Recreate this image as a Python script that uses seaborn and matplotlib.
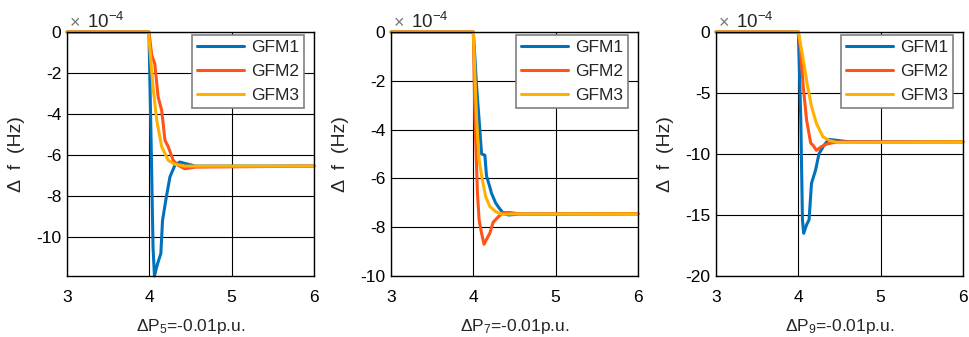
import numpy as np
import pandas as pd
import seaborn as sns
import matplotlib.pyplot as plt

# values in units of 1e-4 Hz
t5_g1 = [3.0, 3.995, 4.02, 4.045, 4.062, 4.08, 4.10, 4.14, 4.16, 4.20, 4.25, 4.31, 4.37, 4.45, 4.56, 6.0]
f5_g1 = [0, 0, -5.0, -10.5, -11.9, -11.6, -11.3, -10.8, -9.2, -8.2, -7.07, -6.5, -6.34, -6.43, -6.54, -6.54]
t5_g2 = [3.0, 3.995, 4.03, 4.066, 4.107, 4.15, 4.19, 4.23, 4.29, 4.35, 4.43, 4.56, 6.0]
f5_g2 = [0, 0, -1.14, -1.55, -3.17, -3.82, -5.28, -5.6, -6.26, -6.5, -6.67, -6.59, -6.54]
t5_g3 = [3.0, 3.99, 4.045, 4.09, 4.15, 4.23, 4.31, 4.43, 6.0]
f5_g3 = [0, 0, -2.7, -4.3, -5.6, -6.26, -6.45, -6.54, -6.54]

t7_g1 = [3.0, 4.0, 4.04, 4.07, 4.10, 4.14, 4.16, 4.20, 4.22, 4.27, 4.31, 4.37, 4.43, 4.57, 6.0]
f7_g1 = [0, 0, -2.25, -3.6, -5.0, -5.05, -5.9, -6.35, -6.6, -7.0, -7.2, -7.45, -7.5, -7.46, -7.45]
t7_g2 = [3.0, 4.0, 4.02, 4.05, 4.07, 4.10, 4.13, 4.16, 4.20, 4.24, 4.31, 4.37, 4.45, 4.57, 6.0]
f7_g2 = [0, 0, -3.6, -6.6, -7.7, -8.25, -8.7, -8.5, -8.25, -7.8, -7.55, -7.4, -7.4, -7.46, -7.45]
t7_g3 = [3.0, 4.0, 4.04, 4.07, 4.11, 4.15, 4.20, 4.27, 4.35, 4.45, 6.0]
f7_g3 = [0, 0, -3.6, -5.25, -6.07, -6.75, -7.15, -7.36, -7.47, -7.46, -7.45]

t9_g1 = [3.0, 4.0, 4.03, 4.05, 4.065, 4.10, 4.13, 4.16, 4.21, 4.25, 4.31, 4.37, 4.49, 4.61, 6.0]
f9_g1 = [0, 0, -7.2, -15.4, -16.5, -15.8, -15.4, -12.4, -11.3, -10.0, -9.3, -8.8, -8.9, -9.0, -9.0]
t9_g2 = [3.0, 4.0, 4.02, 4.06, 4.10, 4.15, 4.18, 4.22, 4.28, 4.34, 4.40, 4.50, 6.0]
f9_g2 = [0, 0, -1.0, -4.5, -7.2, -9.1, -9.3, -9.7, -9.4, -9.2, -9.1, -9.0, -9.0]
t9_g3 = [3.0, 4.0, 4.04, 4.08, 4.10, 4.16, 4.22, 4.30, 4.38, 4.48, 6.0]
f9_g3 = [0, 0, -1.5, -3.1, -4.0, -6.1, -7.5, -8.6, -8.9, -9.06, -9.0]

series = ["GFM1", "GFM2", "GFM3"]
colors = ["#0072BD", "#FF5317", "#FFB000"]
xlabels = ["ΔP$_5$=-0.01p.u.", "ΔP$_7$=-0.01p.u.", "ΔP$_9$=-0.01p.u."]
ylims = [(-11.9, 0), (-10, 0), (-20, 0)]
yticks = [[-10, -8, -6, -4, -2, 0], [-10, -8, -6, -4, -2, 0], [-20, -15, -10, -5, 0]]

cases = [
    [(t5_g1, f5_g1), (t5_g2, f5_g2), (t5_g3, f5_g3)],
    [(t7_g1, f7_g1), (t7_g2, f7_g2), (t7_g3, f7_g3)],
    [(t9_g1, f9_g1), (t9_g2, f9_g2), (t9_g3, f9_g3)],
]

sns.set_style("white")
plt.rcParams["font.family"] = ["Liberation Sans", "DejaVu Sans"]
plt.rcParams["axes.unicode_minus"] = False
plt.rcParams["mathtext.fontset"] = "custom"
plt.rcParams["mathtext.rm"] = "Liberation Sans"
plt.rcParams["mathtext.it"] = "Liberation Sans"

fig = plt.figure(figsize=(9.69, 3.37), dpi=100)
lefts = [67 / 969, 391 / 969, 716 / 969]
w = 247 / 969
b = (337 - 276) / 337
h = 244 / 337

for i, case in enumerate(cases):
    ax = fig.add_axes([lefts[i], b, w, h])
    rows = []
    for name, (tt, ff) in zip(series, case):
        rows.append(pd.DataFrame({"t": tt, "df": ff, "unit": name}))
    df = pd.concat(rows, ignore_index=True)
    sns.lineplot(data=df, x="t", y="df", hue="unit", palette=colors,
                 estimator=None, sort=False, linewidth=2.2, ax=ax)
    for line in ax.get_lines():
        line.set_clip_on(False)
    ax.set_xlim(3, 6)
    ax.set_ylim(*ylims[i])
    ax.set_xticks([3, 4, 5, 6])
    ax.set_yticks(yticks[i])
    ax.grid(True, color="black", linewidth=0.8)
    for sp in ax.spines.values():
        sp.set_color("black")
        sp.set_linewidth(1.0)
    ax.tick_params(axis="both", labelsize=12.5, length=0, colors="black")
    ax.tick_params(axis="x", pad=10)
    ax.tick_params(axis="y", pad=4)
    ax.set_xlabel(xlabels[i], fontsize=12.5)
    ax.xaxis.set_label_coords(0.5, -0.17)
    ax.set_ylabel("Δ  f  (Hz)", fontsize=14)
    ax.yaxis.set_label_coords(-0.17, 0.5)
    ax.text(0.01, 1.0, "×", transform=ax.transAxes, fontsize=13, color="#777777",
            ha="left", va="bottom")
    ax.text(0.08, 1.0, "10$^{-4}$", transform=ax.transAxes, fontsize=13.5,
            ha="left", va="bottom")
    leg = ax.legend(loc="upper right", bbox_to_anchor=(0.96, 0.988),
                    borderaxespad=0, fontsize=12.5, frameon=True, fancybox=False,
                    framealpha=1, edgecolor="#808080", handlelength=2.7,
                    borderpad=0.3, labelspacing=0.5, handletextpad=0.4)
    leg.get_frame().set_linewidth(1.2)
    for line in leg.get_lines():
        line.set_linewidth(2.2)

fig.savefig("out.png", dpi=100)
